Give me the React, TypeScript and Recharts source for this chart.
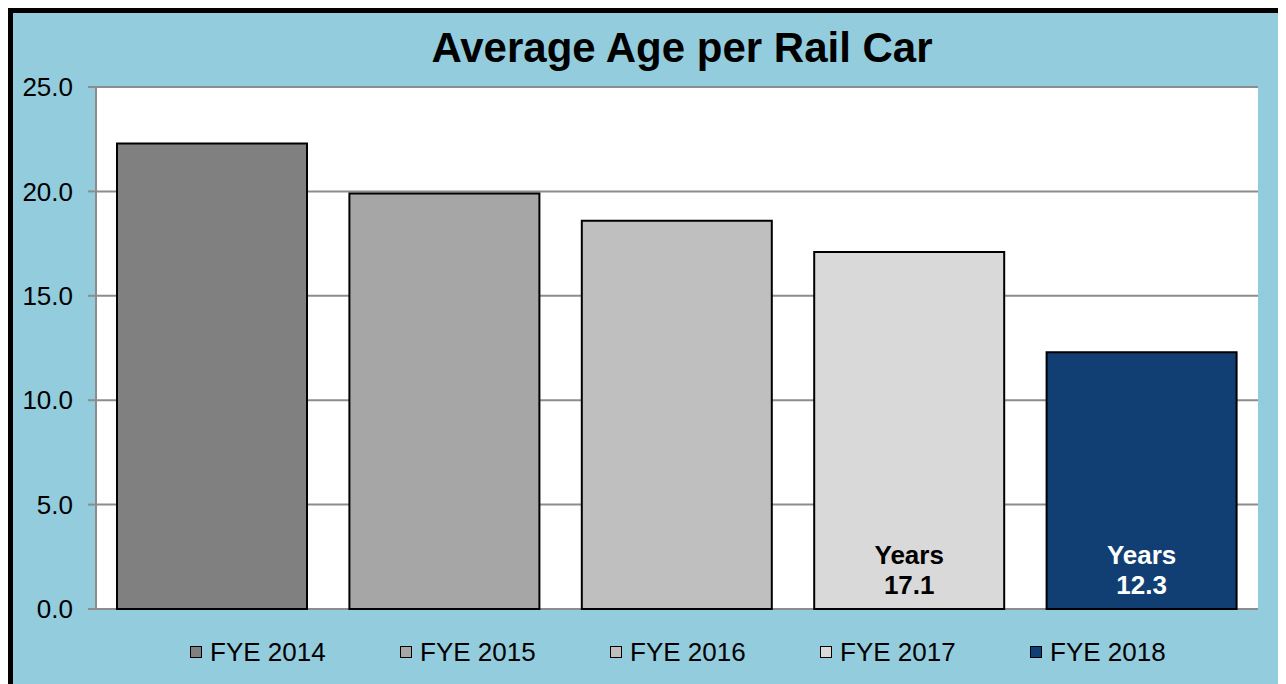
import { Bar, BarChart, CartesianGrid, Cell, LabelList, XAxis, YAxis } from "recharts";

const years = ["FYE 2014", "FYE 2015", "FYE 2016", "FYE 2017", "FYE 2018"];
const avgAge = [22.3, 19.9, 18.6, 17.1, 12.3];
const barColors = ["#808080", "#a6a6a6", "#bfbfbf", "#d9d9d9", "#123f73"];
const labelColors = ["#000", "#000", "#000", "#000", "#fff"];
const labeledBars = [3, 4];
const yTicks = [0, 5, 10, 15, 20, 25];

const font = "'Liberation Sans', Arial, sans-serif";

const data = years.map((year, i) => ({ year, age: avgAge[i] }));

function YearsLabel(props: any) {
  const { x, y, width, height, index, value } = props;
  if (!labeledBars.includes(index)) return null;
  const cx = x + width / 2;
  const bottom = y + height;
  return (
    <g>
      <text x={cx} y={bottom - 54} textAnchor="middle" dominantBaseline="central" fontSize={26} fontWeight="bold" fontFamily={font} fill={labelColors[index]}>
        Years
      </text>
      <text x={cx} y={bottom - 24} textAnchor="middle" dominantBaseline="central" fontSize={26} fontWeight="bold" fontFamily={font} fill={labelColors[index]}>
        {Number(value).toFixed(1)}
      </text>
    </g>
  );
}

export default function App() {
  return (
    <div
      style={{
        position: "relative",
        width: 1278,
        height: 680,
        boxSizing: "border-box",
        background: "#92ccdd",
        borderTop: "5px solid #000",
        borderLeft: "5px solid #000",
        borderRight: "5px solid #000",
        fontFamily: font,
      }}
    >
      <div style={{ position: "absolute", left: 35, top: 10, width: 1268, textAlign: "center", fontSize: 42, lineHeight: "50px", fontWeight: "bold", color: "#000" }}>
        Average Age per Rail Car
      </div>
      <BarChart width={1268} height={671} data={data} margin={{ top: 74, right: 23, left: 0, bottom: 75 }} barCategoryGap={21}>
        <CartesianGrid vertical={false} stroke="#8c8c8c" strokeWidth={2} fill="#fff" />
        <XAxis dataKey="year" height={0} tick={false} tickLine={false} axisLine={{ stroke: "#8c8c8c", strokeWidth: 2 }} />
        <YAxis
          width={83}
          domain={[0, 25]}
          ticks={yTicks}
          interval={0}
          tickFormatter={(v: number) => v.toFixed(1)}
          tick={{ fill: "#000", fontSize: 26, fontFamily: font }}
          tickSize={8}
          tickMargin={15}
          tickLine={{ stroke: "#8c8c8c", strokeWidth: 2 }}
          axisLine={{ stroke: "#8c8c8c", strokeWidth: 2 }}
        />
        <Bar dataKey="age" stroke="#000" strokeWidth={2} isAnimationActive={false}>
          {data.map((d, i) => (
            <Cell key={d.year} fill={barColors[i]} />
          ))}
          <LabelList dataKey="age" content={<YearsLabel />} />
        </Bar>
      </BarChart>
      <div style={{ position: "absolute", top: 624, left: 0, width: 1268, height: 30 }}>
        {years.map((year, i) => (
          <div key={year} style={{ position: "absolute", left: 177 + i * 210, top: 0, display: "flex", alignItems: "center", fontSize: 26, lineHeight: "30px", color: "#000", whiteSpace: "nowrap" }}>
            <span style={{ display: "inline-block", width: 10, height: 10, background: barColors[i], border: "1.5px solid #000", marginRight: 8 }} />
            {year}
          </div>
        ))}
      </div>
    </div>
  );
}
